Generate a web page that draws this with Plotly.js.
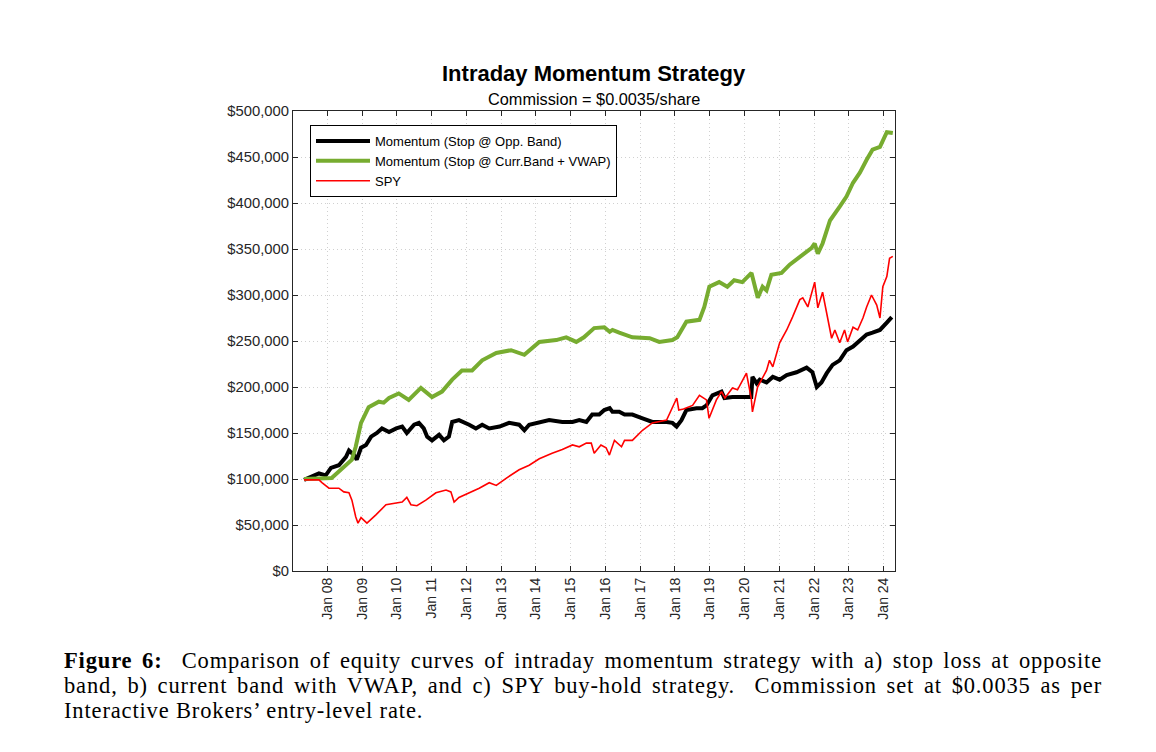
<!DOCTYPE html>
<html>
<head>
<meta charset="utf-8">
<script src="https://cdn.plot.ly/plotly-3.0.1.min.js"></script>
<style>
  html, body { margin: 0; padding: 0; background: #fff; }
  #chart { width: 1156px; height: 752px; }
</style>
</head>
<body>
<div id="chart"></div>
<script>
// equity values in $ thousands
var oppBandDates = ['2007-05-01','2007-07-20','2007-10-05','2007-12-15','2008-02-08','2008-05-01','2008-07-15','2008-08-15','2008-10-08','2008-11-05','2008-12-20','2009-02-10','2009-04-05','2009-06-05','2009-07-28','2009-10-10','2009-12-25','2010-02-25','2010-04-15','2010-07-01','2010-08-20','2010-10-10','2010-11-15','2011-01-05','2011-03-20','2011-05-10','2011-07-01','2011-08-05','2011-10-15','2012-01-30','2012-04-10','2012-06-15','2012-08-28','2012-12-15','2013-03-25','2013-07-08','2013-09-01','2013-10-22','2014-02-05','2014-05-20','2014-10-05','2015-01-20','2015-04-01','2015-06-15','2015-08-15','2015-10-28','2015-12-20','2016-02-15','2016-03-15','2016-05-25','2016-07-20','2016-10-10','2017-01-25','2017-05-08','2017-10-05','2017-12-05','2018-01-18','2018-03-10','2018-05-01','2018-08-15','2018-10-15','2018-11-28','2019-01-30','2019-05-05','2019-06-05','2019-08-28','2019-12-10','2020-03-12','2020-03-25','2020-05-08','2020-06-10','2020-08-20','2020-10-25','2021-01-05','2021-03-20','2021-07-01','2021-10-15','2021-12-15','2022-01-30','2022-03-20','2022-05-15','2022-07-15','2022-09-28','2022-12-08','2023-02-15','2023-04-28','2023-07-08','2023-09-08','2023-11-25','2024-02-05','2024-03-28'];
var oppBandVals = [99,102,106,104,112,115,124,131,126,121,134,137,146,150,155,151,155,157,150,159,161,155,146,142,148,142,146,162,164,159,155,159,155,157,161,159,153,159,162,164,162,162,164,162,170,170,175,177,173,173,170,170,166,162,162,161,157,164,175,177,177,180,191,195,188,189,189,189,211,204,208,205,211,208,213,216,221,216,200,205,215,224,229,240,244,251,257,259,262,270,276];

var vwapDates = ['2007-05-01','2008-02-15','2008-09-15','2008-10-25','2008-12-20','2009-03-10','2009-06-25','2009-08-15','2009-10-10','2010-01-20','2010-05-05','2010-09-10','2011-01-05','2011-04-20','2011-08-05','2011-11-15','2012-03-01','2012-06-15','2012-11-10','2013-04-15','2013-09-01','2014-02-05','2014-08-01','2014-11-15','2015-03-01','2015-05-20','2015-09-05','2015-12-20','2016-02-15','2016-03-15','2016-05-25','2016-10-10','2017-04-10','2017-07-20','2017-12-05','2018-01-25','2018-05-01','2018-09-15','2018-11-05','2018-12-28','2019-04-10','2019-07-05','2019-09-15','2019-12-10','2020-03-15','2020-05-20','2020-07-10','2020-08-20','2020-10-10','2021-01-25','2021-04-20','2021-08-05','2021-12-05','2022-01-08','2022-02-10','2022-04-01','2022-06-18','2022-09-28','2022-12-08','2023-02-15','2023-04-28','2023-07-08','2023-09-08','2023-11-25','2024-02-05','2024-04-08'];
var vwapVals = [100,101,121,135,161,178,184,183,188,193,186,199,189,195,208,218,218,229,237,240,235,249,251,254,249,254,264,265,260,262,259,254,253,249,251,254,271,273,287,309,314,309,316,314,324,297,309,305,322,324,333,341,351,356,345,356,381,396,407,422,433,447,458,461,477,476];

var spyDates = ['2007-05-01','2007-10-05','2007-11-05','2008-01-18','2008-05-01','2008-06-22','2008-08-15','2008-09-15','2008-10-25','2008-11-18','2008-12-20','2009-02-20','2009-05-25','2009-09-08','2009-12-25','2010-02-25','2010-04-15','2010-05-28','2010-07-30','2010-11-01','2011-02-15','2011-06-01','2011-07-22','2011-08-25','2011-10-15','2012-01-30','2012-05-15','2012-08-28','2012-11-10','2013-02-25','2013-07-08','2013-10-22','2014-02-05','2014-06-20','2014-10-05','2015-01-20','2015-04-01','2015-06-15','2015-08-05','2015-09-05','2015-11-15','2016-01-08','2016-02-12','2016-04-05','2016-06-18','2016-07-20','2016-10-10','2017-01-25','2017-05-08','2017-10-05','2018-01-20','2018-02-10','2018-04-01','2018-07-05','2018-09-15','2018-11-28','2018-12-25','2019-03-12','2019-05-05','2019-06-10','2019-08-28','2019-10-20','2020-01-22','2020-03-12','2020-03-25','2020-05-18','2020-08-20','2020-09-20','2020-10-25','2021-01-05','2021-03-20','2021-05-20','2021-08-05','2021-09-05','2021-10-28','2022-01-08','2022-02-10','2022-04-01','2022-05-25','2022-07-05','2022-08-08','2022-09-28','2022-11-18','2022-12-20','2023-02-15','2023-04-05','2023-05-30','2023-07-08','2023-08-28','2023-10-22','2023-11-25','2023-12-25','2024-02-05','2024-03-05','2024-04-08'];
var spyVals = [99,99,96,90,90,86,85,77,59,52,58,52,61,72,74,75,80,72,71,77,85,88,86,75,80,85,90,96,93,101,110,115,122,128,132,137,135,139,139,128,137,134,126,142,135,142,142,153,161,164,188,175,176,180,191,186,166,186,195,188,199,197,215,188,173,200,218,229,222,248,262,276,295,297,287,314,286,303,276,253,262,248,262,249,265,262,275,287,300,289,275,309,320,340,342];

var seriesNames = ['Momentum (Stop @ Opp. Band)', 'Momentum (Stop @ Curr.Band + VWAP)', 'SPY'];
var seriesColors = ['#000000', '#77AC30', '#FF0000'];
var seriesWidths = [4, 4, 1.6];

var yearTicks = [2008,2009,2010,2011,2012,2013,2014,2015,2016,2017,2018,2019,2020,2021,2022,2023,2024];
var yTickVals = [0,50000,100000,150000,200000,250000,300000,350000,400000,450000,500000];

var captionLines = [
  '<b>Figure 6:</b>  Comparison of equity curves of intraday momentum strategy with a) stop loss at opposite',
  'band, b) current band with VWAP, and c) SPY buy-hold strategy.  Commission set at $0.0035 as per',
  'Interactive Brokers\u2019 entry-level rate.'
];

function toDollars(arr) { return arr.map(function (v) { return v * 1000; }); }

var dates = [oppBandDates, vwapDates, spyDates];
var vals = [oppBandVals, vwapVals, spyVals];
var traces = [];
for (var i = 0; i < 3; i++) {
  traces.push({
    x: dates[i],
    y: toDollars(vals[i]),
    name: seriesNames[i],
    type: 'scatter',
    mode: 'lines',
    line: {color: seriesColors[i], width: seriesWidths[i]}
  });
}

var font = 'Liberation Sans, Arial, sans-serif';
var serif = 'Liberation Serif, Times New Roman, serif';

// plot area: x 293..895, y 111..571
function px(x) { return (x - 293) / 602; }
function py(y) { return (571 - y) / 460; }

var annotations = [
  {text: '<b>Intraday Momentum Strategy</b>', xref: 'paper', yref: 'paper',
   x: 0.5, y: py(73), xanchor: 'center', yanchor: 'middle', showarrow: false,
   font: {family: font, size: 22, color: '#000'}},
  {text: 'Commission = $0.0035/share', xref: 'paper', yref: 'paper',
   x: 0.5, y: py(99), xanchor: 'center', yanchor: 'middle', showarrow: false,
   font: {family: font, size: 16.3, color: '#000'}}
];
var captionY = [660, 685, 710];
captionLines.forEach(function (t, k) {
  annotations.push({text: t, xref: 'paper', yref: 'paper', x: px(62), y: py(captionY[k]),
    xanchor: 'left', yanchor: 'middle', showarrow: false, align: 'left',
    font: {family: serif, size: 22.5, color: '#000'}});
});

var gridDash = '1px,3px';

var layout = {
  width: 1156, height: 752,
  margin: {l: 293, r: 261, t: 111, b: 181},
  paper_bgcolor: '#fff', plot_bgcolor: '#fff',
  font: {family: font, size: 14, color: '#262626'},
  showlegend: true,
  legend: {
    x: px(310), y: py(125), xanchor: 'left', yanchor: 'top',
    bgcolor: '#fff', bordercolor: '#000', borderwidth: 1,
    font: {family: font, size: 13, color: '#000'},
    itemwidth: 54,
    tracegroupgap: 0
  },
  xaxis: {
    type: 'date',
    range: ['2007-01-05', '2024-05-01'],
    tickvals: yearTicks.map(function (y) { return y + '-01-01'; }),
    ticktext: yearTicks.map(function (y) { return 'Jan ' + String(y).slice(2); }),
    tickangle: -90,
    ticks: 'inside', ticklen: 5, tickcolor: '#262626',
    showline: true, linecolor: '#262626', linewidth: 1, mirror: 'ticks',
    showgrid: true, gridcolor: '#d0d0d0', griddash: gridDash, gridwidth: 1,
    zeroline: false,
    tickfont: {family: font, size: 14, color: '#262626'}
  },
  yaxis: {
    range: [0, 500000],
    tickvals: yTickVals,
    ticktext: yTickVals.map(function (v) { return '$' + v.toLocaleString('en-US'); }),
    ticks: 'inside', ticklen: 5, tickcolor: '#262626',
    showline: true, linecolor: '#262626', linewidth: 1, mirror: 'ticks',
    showgrid: true, gridcolor: '#d0d0d0', griddash: gridDash, gridwidth: 1,
    zeroline: false,
    tickfont: {family: font, size: 14.8, color: '#262626'}
  },
  annotations: annotations
};

Plotly.newPlot('chart', traces, layout, {displayModeBar: false, staticPlot: true}).then(function () {
  // LaTeX-style caption: a little wider glyph spacing, first two lines justified to the right margin
  var texts = document.querySelectorAll('#chart .annotation-text');
  var right = 1100, left = 62;
  for (var k = 2; k < texts.length; k++) {
    var el = texts[k];
    el.style.letterSpacing = '0.85px';
    if (k < 4) {
      var w = el.getComputedTextLength();
      var gaps = el.textContent.split(' ').length - 1;
      var extra = (right - left - w) / gaps;
      if (extra > 0) el.style.wordSpacing = extra.toFixed(2) + 'px';
    }
  }
});
</script>
</body>
</html>
